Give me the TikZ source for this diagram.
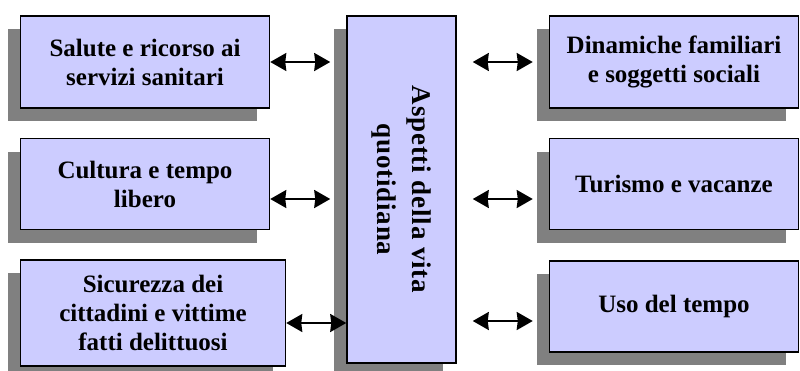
\documentclass[tikz,border=0pt]{standalone}
\usepackage{fontspec}
\setmainfont{Liberation Serif}
\usepackage{graphicx}
\definecolor{boxlav}{HTML}{CCCCFF}
\definecolor{boxshade}{HTML}{808080}
\usetikzlibrary{arrows.meta, positioning, shadows}

\begin{document}
\begin{tikzpicture}[
  x=1pt, y=-1pt,
  area/.style={rectangle, draw=black, line width=1.5pt, fill=boxlav,
    minimum width=249pt, minimum height=92pt, inner sep=2pt,
    align=center, font=\fontsize{25}{29}\selectfont\bfseries,
    drop shadow={shadow xshift=-13pt, shadow yshift=-13pt,
      fill=boxshade, opacity=1}},
  core/.style={area, minimum width=109pt, minimum height=347pt},
  arr/.style={{Stealth[length=16pt, width=18pt, inset=1pt]}-{Stealth[length=16pt, width=18pt, inset=1pt]},
    line width=2pt}
]
  \useasboundingbox (0,0) rectangle (800,370);

  % central block
  \node[core] (aspetti) at (401.5,189.5)
    {\rotatebox{-90}{\parbox{300pt}{\centering
      \fontsize{27}{35}\selectfont\addfontfeature{LetterSpace=3}%
      Aspetti della vita\\quotidiana}}};

  % left column
  \node[area, left=76pt of aspetti.north west, anchor=north east] (salute)
    {Salute e ricorso ai\\servizi sanitari};
  \node[area, minimum height=91pt, below=29pt of salute] (cultura)
    {Cultura e tempo\\libero};
  \node[area, minimum width=265pt, minimum height=106pt,
    below=29pt of cultura.south west, anchor=north west] (sicurezza)
    {Sicurezza dei\\cittadini e vittime\\fatti delittuosi};

  % right column
  \node[area, right=92pt of aspetti.north east, anchor=north west] (dinamiche)
    {Dinamiche familiari\\e soggetti sociali};
  \node[area, minimum height=91pt, below=29pt of dinamiche] (turismo)
    {Turismo e vacanze};
  \node[area, minimum height=91pt, below=30pt of turismo] (uso)
    {Uso del tempo};

  \draw[arr] (salute.east) -- ([xshift=-16pt]salute.east -| aspetti.west);
  \draw[arr] ([yshift=-15pt]cultura.east) -- ([xshift=-16pt, yshift=-15pt]cultura.east -| aspetti.west);
  \draw[arr] ([yshift=-10pt]sicurezza.east) -- ([yshift=-10pt]sicurezza.east -| aspetti.west);
  \draw[arr] ([xshift=16pt]aspetti.east |- dinamiche.west) -- ([xshift=-16pt]dinamiche.west);
  \draw[arr] ([xshift=16pt, yshift=-15pt]aspetti.east |- turismo.west) -- ([xshift=-16pt, yshift=-15pt]turismo.west);
  \draw[arr] ([xshift=16pt, yshift=-14.5pt]aspetti.east |- uso.west) -- ([xshift=-16pt, yshift=-14.5pt]uso.west);
\end{tikzpicture}
\end{document}
